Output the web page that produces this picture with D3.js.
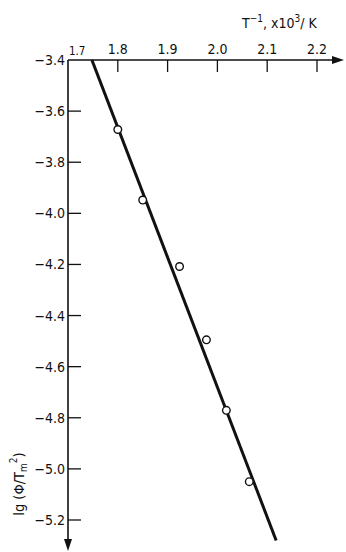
<!DOCTYPE html>
<html>
<head>
<meta charset="utf-8">
<script src="https://cdn.jsdelivr.net/npm/d3@7"></script>
<style>
  body { margin: 0; background: #fff; }
  svg { display: block; }
  text { font-family: "DejaVu Sans Condensed", "DejaVu Sans", sans-serif; fill: #111; }
</style>
</head>
<body>
<svg id="chart" width="346" height="552"></svg>
<script>
// measured points: inverse temperature (x10^3/K) vs lg(phi/Tm^2)
const invT = [1.80, 1.85, 1.924, 1.978, 2.018, 2.064];
const lgPhi = [-3.672, -3.948, -4.208, -4.495, -4.771, -5.05];

// fitted straight line, two ends
const fitX = [1.748, 2.118];
const fitY = [-3.4, -5.28];

const xTicks = [1.7, 1.8, 1.9, 2.0, 2.1, 2.2];
const yTicks = [-3.4, -3.6, -3.8, -4.0, -4.2, -4.4, -4.6, -4.8, -5.0, -5.2];

const svg = d3.select("#chart");

const x = d3.scaleLinear().domain([1.7, 2.2]).range([68, 317]);
const y = d3.scaleLinear().domain([-3.4, -5.2]).range([60, 520]);

const x0 = x(1.7), y0 = y(-3.4);

// axes lines
svg.append("line")
  .attr("x1", x0).attr("y1", y0).attr("x2", 336).attr("y2", y0)
  .attr("stroke", "#111").attr("stroke-width", 1.6);
svg.append("line")
  .attr("x1", x0).attr("y1", y0).attr("x2", x0).attr("y2", 542)
  .attr("stroke", "#111").attr("stroke-width", 1.6);

// arrow heads
svg.append("path")
  .attr("d", `M344,${y0} L332,${y0 - 4} L332,${y0 + 4} Z`)
  .attr("fill", "#111");
svg.append("path")
  .attr("d", `M${x0},551 L${x0 - 4},539 L${x0 + 4},539 Z`)
  .attr("fill", "#111");

// x ticks (pointing down) and labels (above)
xTicks.slice(1).forEach(t => {
  svg.append("line")
    .attr("x1", x(t)).attr("x2", x(t))
    .attr("y1", y0).attr("y2", y0 + 12)
    .attr("stroke", "#111").attr("stroke-width", 1.3);
  svg.append("text")
    .attr("x", x(t)).attr("y", y0 - 6)
    .attr("text-anchor", "middle")
    .attr("font-size", 14)
    .text(d3.format(".1f")(t));
});
svg.append("text")
  .attr("x", x0 + 1).attr("y", y0 - 5)
  .attr("font-size", 11.5)
  .text("1.7");

// y ticks (pointing right) and labels (left)
yTicks.forEach(t => {
  if (t !== -3.4) {
    svg.append("line")
      .attr("x1", x0).attr("x2", x0 + 13)
      .attr("y1", y(t)).attr("y2", y(t))
      .attr("stroke", "#111").attr("stroke-width", 1.3);
  }
  svg.append("text")
    .attr("x", x0 - 3).attr("y", y(t) + 5)
    .attr("text-anchor", "end")
    .attr("font-size", 14)
    .text(d3.format(".1f")(t).replace("-", "\u2212"));
});

// axis titles
const xt = svg.append("text")
  .attr("x", 242).attr("y", 28)
  .attr("font-size", 14);
xt.append("tspan").text("T");
xt.append("tspan").attr("dy", -6).attr("font-size", 10).text("\u22121");
xt.append("tspan").attr("dy", 6).text(", x10");
xt.append("tspan").attr("dy", -6).attr("font-size", 10).text("3");
xt.append("tspan").attr("dy", 6).text("/ K");

const yt = svg.append("text")
  .attr("transform", "translate(24,484) rotate(-90)")
  .attr("text-anchor", "middle")
  .attr("font-size", 14.5);
yt.append("tspan").text("lg (\u03A6/T");
yt.append("tspan").attr("dy", 3).attr("font-size", 10).text("m");
yt.append("tspan").attr("dy", -10).attr("font-size", 10).text("2");
yt.append("tspan").attr("dy", 7).text(")");

// fitted line
svg.append("line")
  .attr("x1", x(fitX[0])).attr("y1", y(fitY[0]))
  .attr("x2", x(fitX[1])).attr("y2", y(fitY[1]))
  .attr("stroke", "#111").attr("stroke-width", 3);

// points
svg.selectAll("circle.pt")
  .data(invT.map((v, i) => [v, lgPhi[i]]))
  .enter()
  .append("circle")
  .attr("class", "pt")
  .attr("cx", d => x(d[0]))
  .attr("cy", d => y(d[1]))
  .attr("r", 3.8)
  .attr("fill", "#fff")
  .attr("stroke", "#111")
  .attr("stroke-width", 1.4);
</script>
</body>
</html>
